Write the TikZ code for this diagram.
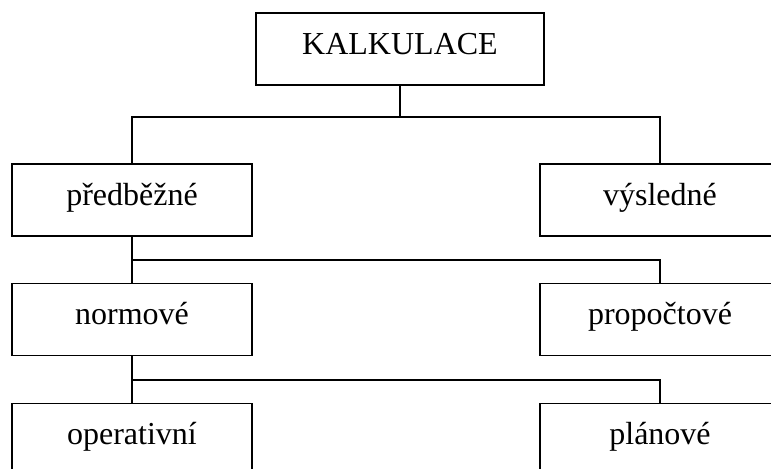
\documentclass[tikz,border=0pt]{standalone}
\usepackage{fontspec}
\setmainfont{Liberation Serif}

\tikzset{
    box/.style={draw, line width=0.8pt, minimum width=120pt, minimum height=36pt,
        inner sep=0pt, text height=11pt, text depth=6pt,
        font=\fontsize{16}{19}\selectfont},
    spoj/.style={line width=0.8pt}
}

\begin{document}
\begin{tikzpicture}[x=0.5pt, y=-0.5pt]
    \clip (0,0) rectangle (771,468);

    \node[box, minimum width=144pt] (kalk) at (400,49){KALKULACE};

    \node[box] (pred) at (132,200){předběžné};
    \node[box] (vysl) at (660,200){výsledné};

    \node[box] (norm) at (132,319.5){normové};
    \node[box] (prop) at (660,319.5){propočtové};

    \node[box] (oper) at (132,439.5){operativní};
    \node[box] (plan) at (660,439.5){plánové};

    \coordinate (j1) at (400,117);
    \draw[spoj] (kalk.south) -- (j1);
    \draw[spoj] (pred.north) |- (j1) -| (vysl.north);

    \draw[spoj] (pred.south) -- (norm.north);
    \draw[spoj] (pred.south |- 0,260) -| (prop.north);

    \draw[spoj] (norm.south) -- (oper.north);
    \draw[spoj] (norm.south |- 0,380) -| (plan.north);
\end{tikzpicture}
\end{document}
